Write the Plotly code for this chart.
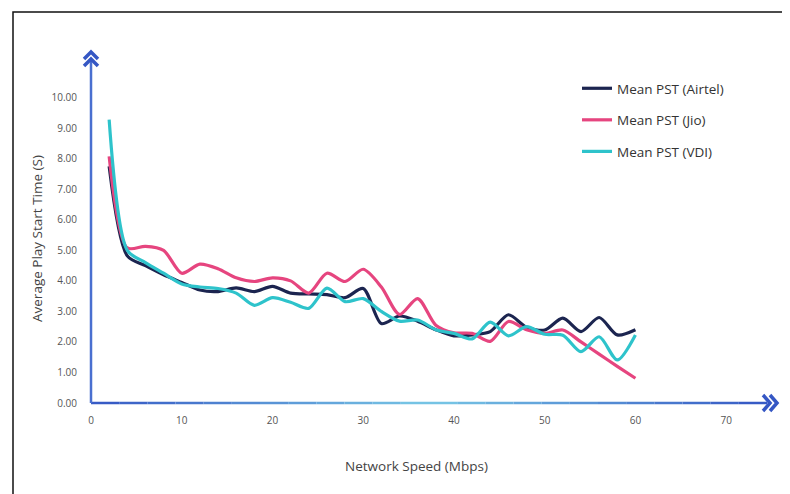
import plotly.graph_objects as go

# ---- data ----
speed_mbps = [2, 4, 6, 8, 10, 12, 14, 16, 18, 20, 22, 24, 26, 28, 30,
              32, 34, 36, 38, 40, 42, 44, 46, 48, 50, 52, 54, 56, 58, 60]
pst_airtel = [7.75, 4.82, 4.50, 4.20, 3.95, 3.70, 3.65, 3.77, 3.65, 3.82,
              3.60, 3.57, 3.55, 3.45, 3.75, 2.60, 2.85, 2.68, 2.40, 2.20,
              2.23, 2.34, 2.89, 2.48, 2.39, 2.78, 2.34, 2.80, 2.23, 2.40]
pst_jio = [8.08, 5.08, 5.13, 5.00, 4.25, 4.55, 4.40, 4.10, 3.98, 4.10,
           4.00, 3.60, 4.25, 3.98, 4.38, 3.80, 2.90, 3.42, 2.55, 2.30,
           2.28, 2.02, 2.67, 2.40, 2.28, 2.39, 2.00, 1.60, 1.20, 0.81]
pst_vdi = [9.28, 5.00, 4.60, 4.25, 3.90, 3.80, 3.75, 3.60, 3.20, 3.45,
           3.30, 3.10, 3.76, 3.32, 3.42, 3.00, 2.68, 2.72, 2.40, 2.28,
           2.10, 2.65, 2.20, 2.50, 2.25, 2.22, 1.68, 2.17, 1.41, 2.23]

series_names = ["Mean PST (Airtel)", "Mean PST (Jio)", "Mean PST (VDI)"]
series_values = [pst_airtel, pst_jio, pst_vdi]
series_colors = ["#1c2550", "#e6457f", "#2ec3cb"]

x_ticks = [0, 10, 20, 30, 40, 50, 60, 70]
y_ticks = [0, 1, 2, 3, 4, 5, 6, 7, 8, 9, 10]

# ---- layout geometry (screen pixels; page body has an 8px margin) ----
OFF = 8
W, H = 790 - OFF, 494 - OFF
AX_L, AX_R, AX_T, AX_B = 91, 767, 58, 403          # plot area on screen
L, R, T, B = AX_L - OFF, (W + OFF) - AX_R, AX_T - OFF, (H + OFF) - AX_B
PW, PH = AX_R - AX_L, AX_B - AX_T


def px(xpix):
    return (xpix - AX_L) / PW


def py(ypix):
    return (AX_B - ypix) / PH


fig = go.Figure()
for i, (name, vals, col) in enumerate(zip(series_names, series_values, series_colors)):
    fig.add_trace(go.Scatter(
        x=speed_mbps, y=vals, name=name, mode="lines",
        line=dict(color=col, width=3.2, shape="spline", smoothing=0.8),
        legendgroup=f"g{i}",
    ))

axis_blue = "#3557c4"
font_fam = "'Open Sans', Lato, sans-serif"

fig.update_layout(
    width=W, height=H,
    margin=dict(l=L, r=R, t=T, b=B),
    paper_bgcolor="white", plot_bgcolor="white",
    font=dict(family=font_fam, color="#555555", size=10),
    showlegend=True,
    legend=dict(
        x=px(577), y=py(73), xanchor="left", yanchor="top",
        font=dict(size=13.5, color="#333333", family=font_fam),
        bgcolor="rgba(0,0,0,0)", traceorder="grouped", tracegroupgap=11,
    ),
    xaxis=dict(
        range=[0, 74.5], tickmode="array", tickvals=x_ticks,
        ticktext=[str(v) for v in x_ticks],
        showgrid=False, zeroline=False, showline=False,
        ticks="", ticklabelstandoff=10,
        tickfont=dict(size=10, color="#555555"),
    ),
    yaxis=dict(
        range=[0, 11.3], tickmode="array", tickvals=y_ticks,
        ticktext=[f"{v:.2f}" for v in y_ticks],
        showgrid=False, zeroline=False, showline=False,
        ticks="", ticklabelstandoff=13,
        tickfont=dict(size=10, color="#555555"),
    ),
)

shapes = []
# horizontal axis with a soft blue-cyan-blue gradient
n_seg = 24
x0s = 91
x1s = 767
for k in range(n_seg):
    t = (k + 0.5) / n_seg
    w = 1 - abs(2 * t - 1)  # 0 at ends, 1 in the middle
    c0 = (53, 87, 196)
    c1 = (120, 200, 230)
    col = tuple(int(c0[j] + (c1[j] - c0[j]) * w) for j in range(3))
    xa = x0s + (x1s - x0s) * k / n_seg
    xb = x0s + (x1s - x0s) * (k + 1) / n_seg
    shapes.append(dict(type="line", xref="paper", yref="paper",
                       x0=px(xa), y0=0, x1=px(xb), y1=0,
                       line=dict(color="rgb(%d,%d,%d)" % col, width=2.5)))
# vertical axis
shapes.append(dict(type="line", xref="paper", yref="paper",
                   x0=0, y0=0, x1=0, y1=py(60),
                   line=dict(color="#4a6fd0", width=2.5)))


def chevron_up(cx, top, w, h):
    return (f"M {px(cx - w)},{py(top + h)} L {px(cx)},{py(top)} "
            f"L {px(cx + w)},{py(top + h)}")


def chevron_right(tipx, cy, w, h):
    return (f"M {px(tipx - w)},{py(cy - h)} L {px(tipx)},{py(cy)} "
            f"L {px(tipx - w)},{py(cy + h)}")


for top in (52, 59):
    shapes.append(dict(type="path", xref="paper", yref="paper",
                       path=chevron_up(91, top, 7, 7),
                       line=dict(color=axis_blue, width=3.5)))
for tip in (770, 777):
    shapes.append(dict(type="path", xref="paper", yref="paper",
                       path=chevron_right(tip, 403, 7, 8),
                       line=dict(color=axis_blue, width=3.5)))

# frame border
shapes.append(dict(type="path", xref="paper", yref="paper",
                   path=f"M {px(13)},{py(520)} L {px(13)},{py(12)} L {px(820)},{py(12)}",
                   line=dict(color="#111111", width=1.5)))

fig.update_layout(shapes=shapes)

fig.add_annotation(text="Average Play Start Time (S)", xref="paper", yref="paper",
                   x=px(37), y=py(238), xanchor="center", yanchor="middle",
                   textangle=-90, showarrow=False,
                   font=dict(size=13.5, color="#444444", family=font_fam))
fig.add_annotation(text="Network Speed (Mbps)", xref="paper", yref="paper",
                   x=px(416), y=py(466), xanchor="center", yanchor="middle",
                   showarrow=False,
                   font=dict(size=13.5, color="#444444", family=font_fam))

fig.write_html("out.html")
